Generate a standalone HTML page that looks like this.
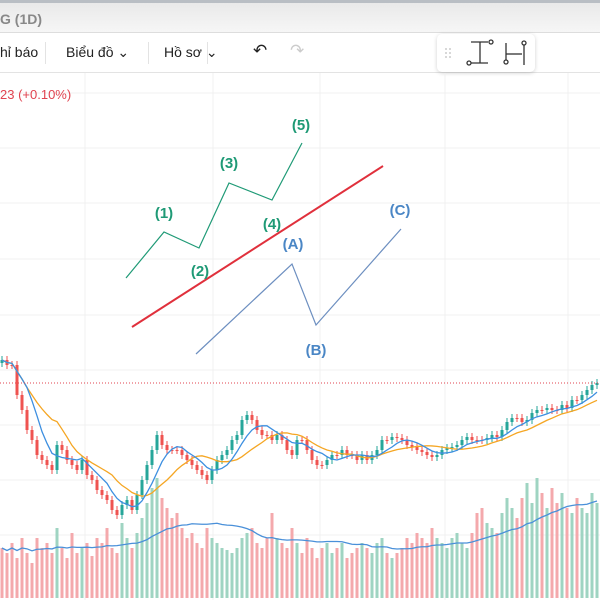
<!DOCTYPE html>
<html><head><meta charset="utf-8"><style>
body{margin:0;width:600px;height:600px;overflow:hidden;background:#fff;font-family:"Liberation Sans",sans-serif;position:relative}
.top{position:absolute;left:0;top:0;width:600px;height:33px;background:linear-gradient(#e9e9e9,#f6f6f6);border-top:3px solid #b9bec4;box-sizing:border-box;border-bottom:1px solid #ddd}
.top span{position:absolute;left:0;top:8px;font-size:14px;font-weight:bold;color:#888}
.tb{position:absolute;left:0;top:34px;width:600px;height:38px;background:#fff;border-bottom:1px solid #e3e3e3}
.tb .it{position:absolute;top:10px;font-size:14px;color:#222}
.sep{position:absolute;top:8px;width:1px;height:22px;background:#e3e3e3}
.fl{position:absolute;left:437px;top:34px;width:98px;height:38px;background:#fff;border-radius:5px;box-shadow:0 1px 4px rgba(0,0,0,.18)}
</style></head><body>
<div class="top"><span>G (1D)</span></div>
<div class="tb">
<span class="it" style="left:0">hỉ báo</span>
<div class="sep" style="left:45px"></div>
<span class="it" style="left:66px">Biểu đồ ⌄</span>
<div class="sep" style="left:148px"></div>
<span class="it" style="left:164px">Hồ sơ ⌄</span>
<div class="sep" style="left:207px"></div>
<span class="it" style="left:253px;font-size:17px;top:7px">↶</span>
<span class="it" style="left:290px;font-size:17px;top:7px;color:#ccc">↷</span>
</div>
<div class="fl">
<svg width="98" height="38">
<g fill="#ccc"><circle cx="9" cy="15" r="1"/><circle cx="13" cy="15" r="1"/><circle cx="9" cy="19" r="1"/><circle cx="13" cy="19" r="1"/><circle cx="9" cy="23" r="1"/><circle cx="13" cy="23" r="1"/></g>
<g stroke="#333" stroke-width="1.3" fill="#fff"><line x1="34" y1="8" x2="51" y2="8"/><line x1="43" y1="8" x2="43" y2="29"/><line x1="34" y1="29" x2="51" y2="29"/><circle cx="54" cy="8" r="2"/><circle cx="32" cy="29" r="2"/>
<line x1="69" y1="9" x2="69" y2="26"/><line x1="69" y1="20" x2="85" y2="20"/><line x1="87" y1="11" x2="87" y2="31"/><circle cx="69" cy="28" r="2"/><circle cx="87" cy="9" r="2"/></g></svg></div>
<svg id="ch" width="600" height="527" style="position:absolute;left:0;top:73px"></svg>
<div style="position:absolute;left:0;top:87px;font-size:13px;color:#e0434f">23 (+0.10%)</div>
<script>
const closes=[360,365,365,395,410,430,440,455,460,465,470,445,450,460,465,470,460,475,480,490,495,500,510,515,505,500,510,495,480,465,450,435,445,450,450,450,455,460,465,470,475,480,470,460,455,450,440,435,420,415,420,430,435,435,440,435,440,450,455,440,440,450,460,465,465,460,455,455,450,455,455,460,455,460,455,450,440,440,437,438,440,445,447,450,452,455,457,455,450,448,447,445,440,437,440,440,440,438,435,437,430,422,418,418,422,420,413,410,410,408,410,410,405,408,400,400,395,390,385,383];
const volumes=[50,45,55,40,60,45,35,60,50,55,45,70,50,40,65,45,50,55,42,60,55,70,50,45,75,60,50,65,80,95,110,120,100,90,80,85,70,60,65,55,50,70,60,55,50,48,45,50,60,65,70,55,50,60,85,60,55,50,70,55,45,60,50,40,50,55,45,50,55,40,45,50,55,50,45,55,60,45,40,45,50,60,55,65,60,55,70,60,55,50,60,65,55,50,65,85,90,75,70,65,85,100,90,80,100,115,95,120,105,90,110,95,105,90,85,100,90,85,105,95];
const svg=document.getElementById('ch'),NS='http://www.w3.org/2000/svg';
const OY=73;
function X(i){return 2+i*5;}
function Y(p){return p-OY;}
function VY(v){return 598-OY-v;}
function mk(t,a){const e=document.createElementNS(NS,t);for(const k in a)e.setAttribute(k,a[k]);svg.appendChild(e);return e;}
[85,213,320,445,568].forEach(x=>{const l=mk('line',{x1:x,y1:0,x2:x,y2:527,stroke:'#f0f0f0'});});
[93,148,203,259,315,370,425,480,535].forEach(y=>{const l=mk('line',{x1:0,y1:y-OY,x2:600,y2:y-OY,stroke:'#f0f0f0'});});
function ma(arr,n){return arr.map((v,i)=>{const s=arr.slice(Math.max(0,i-n+1),i+1);return s.reduce((a,b)=>a+b,0)/s.length;});}
volumes.forEach((v,i)=>{const up=i>0?closes[i]<closes[i-1]:false;const r=mk('rect',{x:X(i)-1.5,y:VY(v),width:3,height:v,fill:up?'#9fd4c2':'#f4a9ac'});});
const vm=ma(volumes,20);
let pl=mk('polyline',{points:vm.map((v,i)=>X(i)+','+VY(v)).join(' '),fill:'none',stroke:'#4a90d9','stroke-width':1.3});

closes.forEach((c,i)=>{const o=i>0?closes[i-1]:c+3;const up=c<o;const col=up?'#26a69a':'#ef5350';
const hi=Math.min(o,c)-4,lo=Math.max(o,c)+4;
let w=mk('line',{x1:X(i),y1:Y(hi),x2:X(i),y2:Y(lo),stroke:col});
let b=mk('rect',{x:X(i)-1.5,y:Y(Math.min(o,c)),width:3,height:Math.max(1,Math.abs(o-c)),fill:col});});
const m1=ma(closes,6),m2=ma(closes,12);
pl=mk('polyline',{points:m2.map((v,i)=>X(i)+','+Y(v)).join(' '),fill:'none',stroke:'#f5a623','stroke-width':1.3});

pl=mk('polyline',{points:m1.map((v,i)=>X(i)+','+Y(v)).join(' '),fill:'none',stroke:'#3d8fe0','stroke-width':1.3});

let dl=mk('line',{x1:0,y1:Y(383),x2:600,y2:Y(383),stroke:'#e0434f','stroke-dasharray':'1 2'});

pl=mk('polyline',{points:[[126,278],[164,232],[199,248],[229,183],[272,200],[302,143]].map(p=>p[0]+','+(p[1]-OY)).join(' '),fill:'none',stroke:'#1f9a76','stroke-width':1.2});

let rl=mk('line',{x1:132,y1:327-OY,x2:383,y2:166-OY,stroke:'#e0303c','stroke-width':2});

pl=mk('polyline',{points:[[196,354],[292,264],[316,325],[401,229]].map(p=>p[0]+','+(p[1]-OY)).join(' '),fill:'none',stroke:'#6d8fc0','stroke-width':1.2});

[['(1)',164,218,'#1f9a76'],['(2)',200,276,'#1f9a76'],['(3)',229,168,'#1f9a76'],['(4)',272,229,'#1f9a76'],['(5)',301,130,'#1f9a76'],['(A)',293,249,'#4a86c5'],['(B)',316,355,'#4a86c5'],['(C)',400,215,'#4a86c5']].forEach(t=>{
const e=mk('text',{x:t[1],y:t[2]-OY,'text-anchor':'middle',fill:t[3],'font-size':15,'font-weight':'bold','font-family':'Liberation Sans, sans-serif'});e.textContent=t[0];
});
</script>
</body></html>
